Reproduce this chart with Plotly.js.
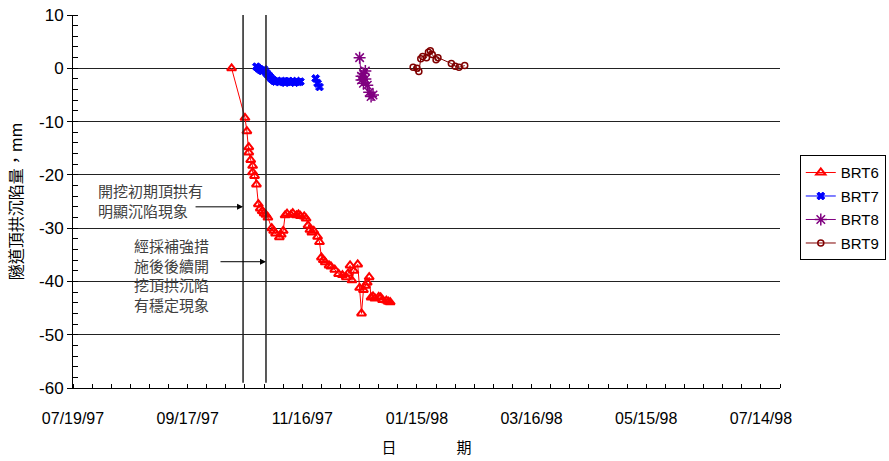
<!DOCTYPE html>
<html>
<head>
<meta charset="utf-8">
<script src="https://cdn.plot.ly/plotly-3.0.1.min.js"></script>
<style>
  html, body { margin: 0; padding: 0; background: #fff; }
  #chart { width: 889px; height: 461px; }
</style>
</head>
<body>
<div id="chart"></div>
<script>
// Crown settlement readings (mm) per monitoring point
const brt6Dates = ['1997-10-10','1997-10-17','1997-10-18','1997-10-19','1997-10-19','1997-10-20','1997-10-21','1997-10-21','1997-10-22','1997-10-23',
  '1997-10-24','1997-10-25','1997-10-26','1997-10-27','1997-10-28','1997-10-29','1997-10-31','1997-11-01','1997-11-02','1997-11-04',
  '1997-11-05','1997-11-06','1997-11-07','1997-11-08','1997-11-10','1997-11-11','1997-11-13','1997-11-14','1997-11-15','1997-11-17',
  '1997-11-18','1997-11-19','1997-11-20','1997-11-21','1997-11-22','1997-11-24','1997-11-25','1997-11-26','1997-11-27','1997-11-28',
  '1997-11-30','1997-12-01','1997-12-03','1997-12-05','1997-12-07','1997-12-09','1997-12-10','1997-12-11','1997-12-12','1997-12-13',
  '1997-12-15','1997-12-16','1997-12-17','1997-12-18','1997-12-19','1997-12-20','1997-12-21','1997-12-22','1997-12-23','1997-12-24',
  '1997-12-26','1997-12-27','1997-12-28','1997-12-30','1997-12-31','1998-01-01'];
const brt6Values = [0,-9.3,-11.8,-14.8,-15.8,-17.2,-18.3,-19.5,-20.2,-21.8,
  -25.5,-26.3,-26.8,-27.2,-27.5,-28.0,-30.0,-30.5,-31.0,-31.7,
  -31.2,-30.5,-27.6,-27.3,-27.5,-27.2,-27.6,-27.4,-27.7,-27.8,
  -28.2,-29.5,-30.3,-30.8,-30.5,-31.6,-32.6,-35.5,-36.0,-36.4,
  -37.0,-37.2,-37.8,-38.6,-38.8,-39.2,-38.5,-37.0,-39.8,-38.0,
  -36.8,-41.2,-46.0,-41.6,-40.8,-40.2,-39.2,-43.0,-42.8,-43.2,
  -42.9,-43.0,-43.5,-43.6,-43.8,-43.9];

const brt7Dates = ['1997-10-23','1997-10-24','1997-10-25','1997-10-26','1997-10-27','1997-10-28','1997-10-29','1997-10-30','1997-10-31','1997-11-01',
  '1997-11-02','1997-11-03','1997-11-04','1997-11-05','1997-11-06','1997-11-07','1997-11-08','1997-11-09','1997-11-10','1997-11-11',
  '1997-11-12','1997-11-13','1997-11-14','1997-11-15','1997-11-19','1997-11-23','1997-11-24','1997-11-25'];
const brt7Values = [0.3,0,-0.3,-0.5,-0.2,-0.8,-1.2,-1.6,-2.0,-2.3,
  -2.5,-2.4,-2.6,-2.4,-2.5,-2.7,-2.5,-2.4,-2.6,-2.5,
  -2.7,-2.4,-2.6,-2.5,null,-1.9,-2.8,-3.5];

const brt8Dates = ['1997-12-16','1997-12-17','1997-12-17','1997-12-18','1997-12-18','1997-12-19','1997-12-19','1997-12-20','1997-12-21','1997-12-22','1997-12-23'];
const brt8Values = [2.0,-1.5,-2.2,-1.0,-2.8,-0.5,-2.0,-3.2,-4.5,-5.3,-5.0];

const brt9Dates = ['1998-01-13','1998-01-15','1998-01-16','1998-01-17','1998-01-18','1998-01-20','1998-01-21','1998-01-22','1998-01-23','1998-01-25',
  '1998-01-26','1998-02-02','1998-02-04','1998-02-06','1998-02-09'];
const brt9Values = [0.2,0.0,-0.6,1.8,2.2,2.0,3.0,3.3,2.6,1.6,2.0,0.9,0.4,0.2,0.5];

// Value axis ticks, written with a plain hyphen minus
const yTickValues = [10, 0, -10, -20, -30, -40, -50, -60];
const yTickLabels = ['10', '0', '-10', '-20', '-30', '-40', '-50', '-60'];

// Construction milestones drawn as vertical reference lines
const milestoneDates = ['1997-10-16','1997-10-28'];
const noteEarly = '開挖初期頂拱有<br>明顯沉陷現象';
const noteLater = '經採補強措<br>施後後續開<br>挖頂拱沉陷<br>有穩定現象';

const DAY = 86400000;
const latin = 'Liberation Sans, Arial, sans-serif';
const cjk = 'Noto Sans CJK TC, sans-serif';

function series(name, x, y, color, symbol, size, lw) {
  return {
    type: 'scatter', mode: 'lines+markers', name: name, x: x, y: y,
    connectgaps: false,
    line: { color: color, width: 1 },
    marker: { symbol: symbol, size: size, color: color, line: { color: color, width: lw } },
    legendgroup: name
  };
}

const traces = [
  series('BRT6', brt6Dates, brt6Values, '#ff0000', 'triangle-up-open', 8, 2),
  series('BRT7', brt7Dates, brt7Values, '#0000ff', 'x', 7, 1),
  series('BRT8', brt8Dates, brt8Values, '#800080', 'asterisk-open', 10, 1.5),
  series('BRT9', brt9Dates, brt9Values, '#800000', 'circle-open', 6, 1.5)
];

const shapes = milestoneDates.map(d => ({
  type: 'line', xref: 'x', yref: 'y', x0: d, x1: d, y0: -59, y1: 10,
  line: { color: '#222', width: 1.5 }
}));

const annotations = [
  { xref: 'x', yref: 'y', x: milestoneDates[0], y: -26, text: '', showarrow: true,
    axref: 'pixel', ayref: 'pixel', ax: -49, ay: 0, arrowhead: 2, arrowsize: 1.2, arrowwidth: 1, arrowcolor: '#000' },
  { xref: 'x', yref: 'y', x: milestoneDates[1], y: -36.3, text: '', showarrow: true,
    axref: 'pixel', ayref: 'pixel', ax: -47, ay: 0, arrowhead: 2, arrowsize: 1.2, arrowwidth: 1, arrowcolor: '#000' },
  { xref: 'paper', yref: 'paper', x: 0.032, y: 0.503, xanchor: 'left', yanchor: 'middle',
    text: noteEarly, showarrow: false, align: 'left',
    font: { family: cjk, size: 15, color: '#404040' } },
  { xref: 'paper', yref: 'paper', x: 0.083, y: 0.302, xanchor: 'left', yanchor: 'middle',
    text: noteLater, showarrow: false, align: 'left',
    font: { family: cjk, size: 15, color: '#404040' } }
];

const layout = {
  width: 889, height: 461,
  margin: { l: 73, r: 109, t: 15, b: 73, autoexpand: false },
  paper_bgcolor: '#fff', plot_bgcolor: '#fff',
  showlegend: true,
  legend: {
    x: 1.028, y: 0.624, xanchor: 'left', yanchor: 'top',
    bordercolor: '#000', borderwidth: 1, bgcolor: '#fff',
    font: { family: latin, size: 15, color: '#000' },
    traceorder: 'grouped', tracegroupgap: 1
  },
  xaxis: {
    type: 'date',
    range: ['1997-07-19', '1998-07-24'],
    tick0: '1997-07-19', dtick: 60 * DAY, tickformat: '%m/%d/%y',
    showgrid: false, zeroline: false,
    showline: true, linecolor: '#000', linewidth: 1,
    ticks: 'outside', ticklen: 0, tickcolor: '#000',
    ticklabelstandoff: 16,
    tickfont: { family: latin, size: 16, color: '#000' },
    minor: { dtick: 10 * DAY, tick0: '1997-07-19', ticks: 'inside', ticklen: 4, tickcolor: '#000', showgrid: false },
    title: { text: '日　　　　期', font: { family: cjk, size: 15, color: '#000' }, standoff: 16 }
  },
  yaxis: {
    range: [-60, 10],
    tickmode: 'array', tickvals: yTickValues, ticktext: yTickLabels,
    showgrid: true, gridcolor: '#222', gridwidth: 1,
    zeroline: false,
    showline: true, linecolor: '#000', linewidth: 1,
    ticks: 'outside', ticklen: 5, tickcolor: '#000',
    tickfont: { family: latin, size: 17, color: '#000' },
    minor: { dtick: 2, tick0: 0, ticks: 'inside', ticklen: 5, tickcolor: '#000', showgrid: false },
    title: { text: '隧道頂拱沉陷量，mm', font: { family: cjk, size: 16, color: '#000' }, standoff: 12 }
  },
  shapes: shapes,
  annotations: annotations
};

Plotly.newPlot('chart', traces, layout, { displayModeBar: false, staticPlot: true });
</script>
</body>
</html>
